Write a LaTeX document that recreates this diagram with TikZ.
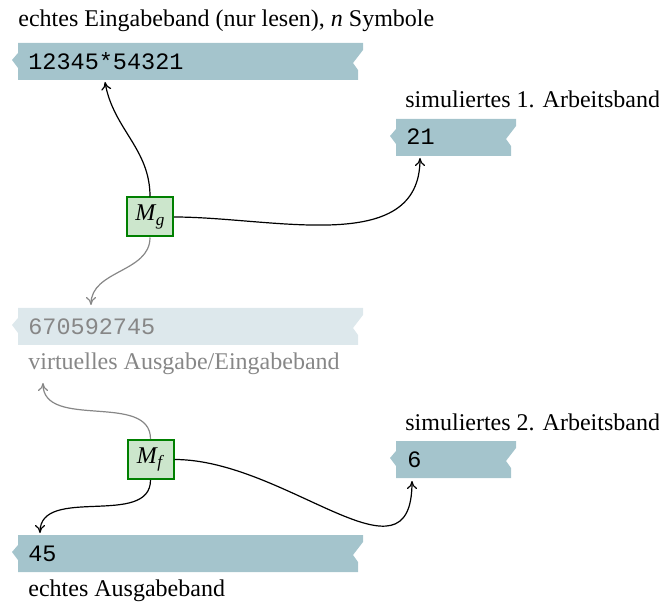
\documentclass[tikz,border=0pt]{standalone}
\usepackage{fontspec}
\setmainfont{Liberation Serif}
\setmonofont{Liberation Mono}
\usetikzlibrary{arrows.meta}
\definecolor{tapec}{RGB}{164,196,204}
\definecolor{tapelight}{RGB}{221,232,236}
\definecolor{boxfill}{RGB}{204,230,204}
\definecolor{boxdraw}{RGB}{0,128,0}
\definecolor{fadegray}{RGB}{135,135,135}
\newcommand\tapeband[4]{%
  \fill[#4] ({#1+6},#3) -- (#2,#3) -- (#2,{#3+7}) -- ({#2-10},{#3+20}) -- ({#2-5},{#3+27})
    -- ({#2-5},{#3+37}) -- ({#1+6},{#3+37}) -- ({#1+6},{#3+25}) -- (#1,{#3+17})
    -- ({#1+6},{#3+10}) -- cycle;}
\newcommand\machname[1]{\textit{M}\kern-0.3pt\raisebox{-2.3pt}{\fontsize{8.6}{9}\selectfont\textit{#1}}}
\begin{document}
\begin{tikzpicture}[x=0.5pt,y=-0.5pt,
  font=\fontsize{12}{14}\selectfont,
  lbl/.style={anchor=base west, inner sep=0pt},
  tapetext/.style={anchor=base west, inner sep=0pt, font=\fontsize{11.75}{13}\selectfont\ttfamily},
  machine/.style={draw=boxdraw, fill=boxfill, line width=1pt, minimum height=19.5pt,
    minimum width=23pt, inner sep=2pt},
  link/.style={-{To[length=4pt,width=5pt]}, line width=0.6pt, black},
  fadelink/.style={link, fadegray}]
\useasboundingbox (0,0) rectangle (659,604);

% tapes
\tapeband{12}{363}{43}{tapec}
\tapeband{390}{516}{119}{tapec}
\tapeband{12}{363}{308}{tapelight}
\tapeband{390}{516}{441}{tapec}
\tapeband{12}{363}{535}{tapec}

% labels
\node[lbl] (title) at (18,27) {echtes Eingabeband (nur lesen), \textit{n} Symbole};
\node[lbl] (lab1) at (405,108) {simuliertes 1. Arbeitsband};
\node[lbl, text=fadegray] (labv) at (28,370) {virtuelles Ausgabe/Eingabeband};
\node[lbl] (lab2) at (405,430) {simuliertes 2. Arbeitsband};
\node[lbl] (labo) at (28,596) {echtes Ausgabeband};

% tape contents
\node[tapetext] (t1) at (28,70) {12345*54321};
\node[tapetext] (t2) at (406,145) {21};
\node[tapetext, text=fadegray] (tv) at (28,335) {670592745};
\node[tapetext] (t3) at (407,467) {6};
\node[tapetext] (t4) at (28,561) {45};

% machines
\node[machine] (Mg) at (150,217) {\machname{g}};
\node[machine] (Mf) at (150.5,459.5) {\machname{f}};

% head positions
\coordinate (h1) at (105,82);
\coordinate (h2) at (420,158);
\coordinate (hv) at (91,305);
\coordinate (hu) at (43,383);
\coordinate (h3) at (412,481);
\coordinate (h4) at (40,533);

\draw[link] (Mg.north) to[out=90,in=-80] (h1);
\draw[link] (Mg.east) to[out=0,in=-90] (h2);
\draw[fadelink] (Mg.south) to[out=-90,in=90] (hv);
\draw[fadelink] (Mf.north) to[out=90,in=-90] (hu);
\draw[link] (Mf.east) to[out=0,in=-90,looseness=1.2] (h3);
\draw[link] (Mf.south) to[out=-90,in=90] (h4);
\end{tikzpicture}
\end{document}
